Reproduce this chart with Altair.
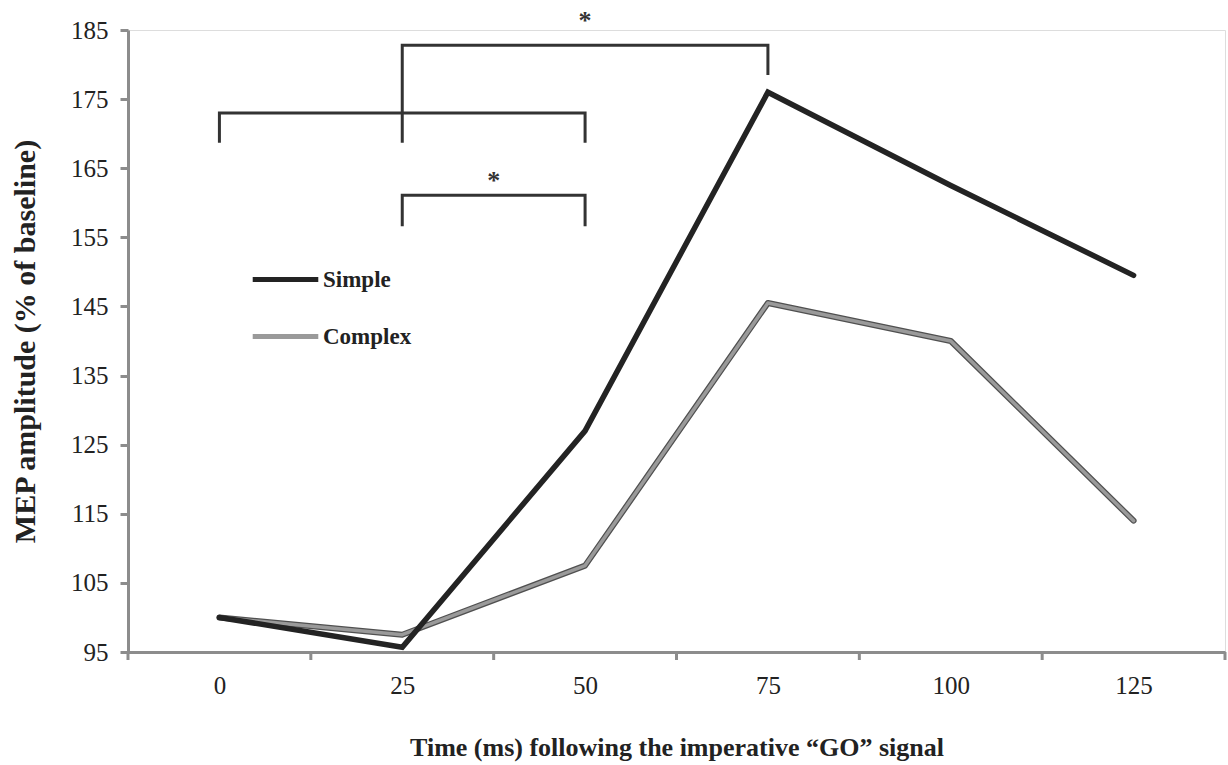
import altair as alt
import pandas as pd

# ---- data ----
times = [0, 25, 50, 75, 100, 125]
simple = [100, 95.7, 127, 176, 162.5, 149.5]
complex_ = [100, 97.5, 107.5, 145.5, 140, 114]

# significance brackets: id, x, y (path order)
br_id = ["a", "a", "a", "a", "b", "b", "b", "b", "c", "c", "c", "c"]
br_x = [0, 0, 50, 50, 25, 25, 75, 75, 25, 25, 50, 50]
br_y = [168.7, 173, 173, 168.7, 168.7, 182.8, 182.8, 178.5, 156.6, 161.1, 161.1, 156.6]

star_x = [50, 37.5]
star_y = [186.9, 163.7]

# category boundary ticks on the x axis
tick_x = [-12.5, 12.5, 37.5, 62.5, 87.5, 112.5, 137.5]

FONT = "Liberation Serif"
W, H = 1097, 622

df = pd.DataFrame({
    "t": times * 2,
    "v": simple + complex_,
    "series": ["Simple"] * 6 + ["Complex"] * 6,
    "o": list(range(6)) * 2,
})
br = pd.DataFrame({"id": br_id, "x": br_x, "y": br_y, "o": list(range(12))})
stars = pd.DataFrame({"x": star_x, "y": star_y, "s": ["*", "*"]})
ticks = pd.DataFrame({"x": tick_x})

xscale = alt.Scale(domain=[-12.5, 137.5], nice=False, zero=False)
yscale = alt.Scale(domain=[95, 185], nice=False, zero=False)
cscale = alt.Scale(domain=["Simple", "Complex"], range=["#232323", "#9a9a9a"])

xaxis = alt.Axis(
    values=times, ticks=False, title="Time (ms) following the imperative \u201cGO\u201d signal",
    labelFont=FONT, labelFontSize=25, labelColor="#222", labelPadding=21,
    titleFont=FONT, titleFontSize=26, titleFontWeight="bold", titleColor="#222", titlePadding=36,
    domainColor="#8c8c8c", domainWidth=3, grid=False, labelFlush=False,
)
yaxis = alt.Axis(
    values=list(range(95, 186, 10)), tickSize=8, tickColor="#8c8c8c", tickWidth=3,
    title="MEP amplitude (% of baseline)",
    labelFont=FONT, labelFontSize=25, labelColor="#222", labelPadding=12,
    titleFont=FONT, titleFontSize=30, titleFontWeight="bold", titleColor="#222", titlePadding=30,
    domainColor="#8c8c8c", domainWidth=3, grid=False,
)

base = alt.Chart(df)

outline = base.transform_filter(alt.datum.series == "Complex").mark_line(
    color="#505050", strokeWidth=6, strokeJoin="round", strokeCap="round"
).encode(
    x=alt.X("t:Q", scale=xscale, axis=xaxis),
    y=alt.Y("v:Q", scale=yscale, axis=yaxis),
    order="o:Q",
)

legend = alt.Legend(
    title=None, orient="none", legendX=122, legendY=214, symbolType="stroke",
    symbolSize=4300, symbolStrokeWidth=5, labelFont=FONT, labelFontSize=23,
    labelFontWeight="bold", labelColor="#222", rowPadding=9, labelOffset=2,
)

complex_line = base.transform_filter(alt.datum.series == "Complex").mark_line(
    strokeWidth=3.5, strokeJoin="round", strokeCap="round"
).encode(
    x="t:Q", y="v:Q", order="o:Q",
    color=alt.Color("series:N", scale=cscale, legend=legend),
)

simple_line = base.transform_filter(alt.datum.series == "Simple").mark_line(
    strokeWidth=5.5, strokeJoin="miter", strokeCap="round"
).encode(
    x="t:Q", y="v:Q", order="o:Q",
    color=alt.Color("series:N", scale=cscale, legend=legend),
)

brackets = alt.Chart(br).mark_line(color="#333333", strokeWidth=3, strokeJoin="miter").encode(
    x="x:Q", y="y:Q", detail="id:N", order="o:Q"
)

star_text = alt.Chart(stars).mark_text(
    font=FONT, fontSize=26, fontWeight="bold", color="#333333", baseline="middle", dy=4
).encode(x="x:Q", y="y:Q", text="s:N")

tick_marks = alt.Chart(ticks).mark_rule(color="#8c8c8c", strokeWidth=3).encode(
    x="x:Q", y=alt.value(H), y2=alt.value(H + 8)
)

chart = alt.layer(outline, complex_line, simple_line, brackets, star_text, tick_marks).properties(
    width=W, height=H,
    padding={"left": 128, "top": 30, "right": 3, "bottom": 113},
    autosize=alt.AutoSizeParams(type="none"),
).configure_view(stroke=None).configure(background="white")

chart.save("out.html", embed_options={"renderer": "svg", "actions": False})
